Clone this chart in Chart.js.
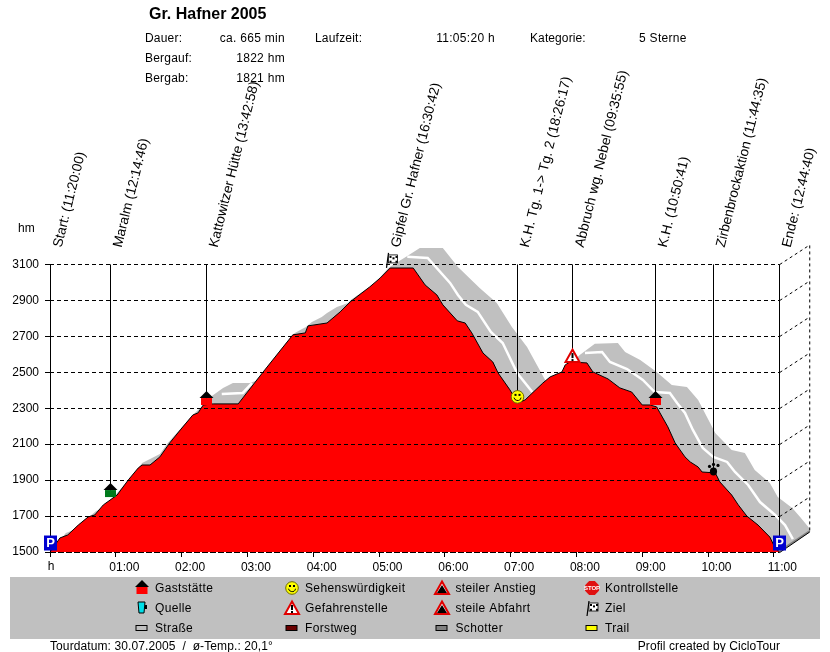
<!DOCTYPE html>
<html>
<head>
<meta charset="utf-8">
<title>Gr. Hafner 2005</title>
<script src="https://cdn.jsdelivr.net/npm/chart.js@4"></script>
<style>
html,body{margin:0;padding:0;background:#fff;}
canvas{display:block;}
</style>
</head>
<body>
<canvas id="profil" width="830" height="652"></canvas>
<script>
/* ---------- DATA ---------- */
let hourTicks=[0,1,2,3,4,5,6,7,8,9,10,11];
let hourLabels=["","01:00","02:00","03:00","04:00","05:00","06:00","07:00","08:00","09:00","10:00","11:00"];
let hmTicks=[1500,1700,1900,2100,2300,2500,2700,2900,3100];

let profileHours=[0,.11,.15,.27,.43,.58,.68,.81,1.02,1.19,1.34,1.40,1.52,1.67,1.82,1.98,2.17,2.25,2.33,2.48,2.86,3.24,3.69,3.88,3.92,4.21,4.41,4.56,4.86,5.02,5.17,5.52,5.70,5.88,5.97,6.19,6.31,6.41,6.58,6.73,6.81,6.99,7.11,7.22,7.49,7.60,7.78,7.83,7.90,8.16,8.25,8.48,8.66,8.84,9.00,9.12,9.22,9.27,9.39,9.50,9.65,9.73,9.85,9.91,10.11,10.18,10.36,10.46,10.59,10.76,10.94,11.02,11.09];
let profileHm=[1500,1556,1578,1595,1650,1695,1706,1762,1817,1901,1967,1984,1984,2029,2107,2179,2262,2274,2318,2324,2324,2502,2708,2719,2758,2774,2836,2891,2975,3025,3080,3080,2986,2930,2875,2786,2774,2719,2607,2557,2496,2402,2329,2346,2440,2474,2502,2541,2557,2552,2502,2463,2413,2390,2318,2318,2307,2274,2196,2107,2029,2001,1973,1945,1940,1890,1817,1762,1700,1650,1583,1522,1500];

let gravelTopHours=[0,.15,.24,.36,.43,.53,.61,.70,.79,1.02,1.26,1.40,1.49,1.61,1.67,1.79,2.17,2.33,2.46,2.63,2.78,3.04,3.12,3.24,3.69,3.72,3.83,3.89,3.98,4.13,4.21,4.36,4.53,4.57,4.94,5.14,5.24,5.43,5.62,5.97,6.20,6.53,6.79,7.02,7.25,7.55,7.60,7.78,7.90,8.05,8.28,8.63,8.74,8.97,9.22,9.45,9.68,9.85,10.11,10.36,10.56,10.71,10.94,11.06,11.28,11.40,11.55];
let gravelTopHm=[1500,1561,1606,1622,1645,1684,1700,1728,1745,1828,1929,1995,2012,2034,2045,2107,2262,2318,2368,2413,2440,2440,2452,2502,2708,2719,2741,2752,2780,2808,2830,2863,2886,2902,2997,3080,3103,3147,3192,3192,3086,2969,2886,2752,2641,2440,2474,2502,2541,2596,2658,2663,2613,2568,2502,2429,2418,2346,2162,2068,2051,1956,1884,1806,1745,1695,1628];
let gravelBottomHours=[0,11.09,11.55];
let gravelBottomHm=[1500,1500,1617];

let stripeHours=[2.61,2.93,3.07,null,5.43,5.74,6.08,6.20,6.32,6.50,6.70,6.88,7.10,7.33,null,8.13,8.39,8.51,8.77,9.01,9.19,9.42,9.53,9.65,9.77,9.92,10.08,10.29,10.41,10.61,10.79,11.02,11.17,11.29];
let stripeHm=[2379,2385,2440,null,3142,3136,2997,2930,2875,2836,2724,2663,2496,2390,null,2607,2613,2557,2518,2457,2390,2385,2329,2274,2179,2079,2029,2001,1945,1873,1778,1706,1650,1572];

let waypointNames=["Start: (11:20:00)","Maralm (12:14:46)","Kattowitzer Hütte (13:42:58)","Gipfel Gr. Hafner (16:30:42)","K.H. Tg. 1-> Tg. 2 (18:26:17)","Abbruch wg. Nebel (09:35:55)","K.H. (10:50:41)","Zirbenbrockaktion (11:44:35)","Ende: (12:44:40)"];
let waypointHours=[0,.92,2.385,5.15,7.11,7.945,9.2,10.09,11.09];
let waypointHm=[1550,1839,2351,3125,2363,2590,2351,1962,1550];
let waypointKinds=["park","alm","hut","flag","smile","danger","hut","paw","park"];

let legendCols=[["Gaststätte","Quelle","Straße"],["Sehenswürdigkeit","Gefahrenstelle","Forstweg"],["steiler Anstieg","steile Abfahrt","Schotter"],["Kontrollstelle","Ziel","Trail"]];
let legendKinds=[["hut","cup","road"],["smile","danger","forest"],["climb","descent","gravel"],["stop","flag","trail"]];

/* ---------- ICONS ---------- */
const FONT='"Liberation Sans", Arial, sans-serif';
function poly(c,pts,fill,stroke,lw){
 c.beginPath();
 pts.forEach((p,i)=>i?c.lineTo(p[0],p[1]):c.moveTo(p[0],p[1]));
 c.closePath();
 if(fill){c.fillStyle=fill;c.fill();}
 if(stroke){c.strokeStyle=stroke;c.lineWidth=lw||1;c.stroke();}
}
function house(c,x,y,col){
 c.fillStyle=col;c.fillRect(x-5.5,y-1,11,7);
 poly(c,[[x-7,y-1],[x,y-8],[x+7,y-1]],"#000");
}
function smile(c,x,y){
 c.beginPath();c.arc(x,y,6.3,0,Math.PI*2);
 c.fillStyle="#ffff00";c.fill();c.strokeStyle="#6b6b00";c.lineWidth=1;c.stroke();
 c.fillStyle="#000";c.fillRect(x-3,y-3,2,2);c.fillRect(x+1,y-3,2,2);
 c.beginPath();c.arc(x,y,3.6,.2,Math.PI-.2);c.strokeStyle="#000";c.stroke();
}
function triangle(c,x,y){
 poly(c,[[x,y-6.5],[x+7,y+6],[x-7,y+6]],"#fff","#e00000",2);
}
function danger(c,x,y){
 triangle(c,x,y);
 c.fillStyle="#000";c.fillRect(x-1,y-3,2,5);c.fillRect(x-1,y+3,2,2);
}
function steep(c,x,y,dir){
 triangle(c,x,y);
 poly(c,[[x-5*dir,y+5],[x,y-3],[x+5*dir,y+5]],"#000");
}
function cup(c,x,y){
 poly(c,[[x-4,y-6],[x+3,y-6],[x+2,y+5],[x-3,y+5]],"#00e0e8","#000",1);
 c.fillStyle="#000";c.fillRect(x+3,y-3,2,4);
}
function stop(c,x,y){
 let r=7.5,pts=[];
 for(let i=0;i<8;i++)pts.push([x+r*Math.cos(Math.PI/8+i*Math.PI/4),y+r*Math.sin(Math.PI/8+i*Math.PI/4)]);
 poly(c,pts,"#e01010");
 c.fillStyle="#fff";c.font="bold 6px "+FONT;c.textAlign="center";c.textBaseline="middle";
 c.fillText("STOP",x,y+.5);
}
function flag(c,x,y){
 c.strokeStyle="#000";c.lineWidth=1.2;
 c.beginPath();c.moveTo(x-5,y+8);c.lineTo(x-3,y-7);c.stroke();
 c.fillStyle="#fff";c.fillRect(x-3,y-5,9,8);
 c.fillStyle="#000";
 for(let i=0;i<3;i++)for(let j=0;j<3;j++)if((i+j)%2==0)c.fillRect(x-2+i*3,y-4+j*2.4-(i%2),2,2);
 c.lineWidth=.8;c.strokeRect(x-3,y-5,9,8);
}
function paw(c,x,y){
 c.fillStyle="#000";
 c.beginPath();c.ellipse(x,y+2.5,3.6,4,0,0,Math.PI*2);c.fill();
 [[-4,-2.5],[0,-4.5],[4.5,-3.5]].forEach(t=>{c.beginPath();c.arc(x+t[0],y+t[1],1.6,0,Math.PI*2);c.fill();});
}
function park(c,x,y){
 c.fillStyle="#0000d0";c.fillRect(x-6.5,y-7.5,13,15);
 c.fillStyle="#fff";c.font="bold 13px "+FONT;c.textAlign="center";c.textBaseline="middle";
 c.fillText("P",x,y);
}
function swatch(c,x,y,col){
 c.fillStyle=col;c.fillRect(x-6,y-2.5,11,5);
 c.strokeStyle="#000";c.lineWidth=1;c.strokeRect(x-6,y-2.5,11,5);
}
function drawIcon(c,kind,x,y){
 if(kind=="alm")house(c,x,y,"#007a1c");
 if(kind=="hut")house(c,x,y,"#ff0000");
 if(kind=="smile")smile(c,x,y);
 if(kind=="danger")danger(c,x,y);
 if(kind=="climb")steep(c,x,y,1);
 if(kind=="descent")steep(c,x,y,-1);
 if(kind=="cup")cup(c,x,y);
 if(kind=="stop")stop(c,x,y);
 if(kind=="flag")flag(c,x,y);
 if(kind=="paw")paw(c,x,y);
 if(kind=="park")park(c,x,y);
 if(kind=="road")swatch(c,x,y,"#c0c0c0");
 if(kind=="forest")swatch(c,x,y,"#6a0000");
 if(kind=="gravel")swatch(c,x,y,"#808080");
 if(kind=="trail")swatch(c,x,y,"#ffff00");
}
function text(c,s,x,y,font,align,spacing){
 c.font=font||"12px "+FONT;
 c.textAlign=align||"left";
 c.textBaseline="alphabetic";
 c.letterSpacing=(spacing||0)+"px";
 c.fillStyle="#000";
 c.fillText(s,x,y);
 c.letterSpacing="0px";
}

/* ---------- GRID, WALL, WAYPOINTS, HEADER, LEGEND ---------- */
const extras={
 id:"extras",
 afterDatasetsDraw(chart){
  let c=chart.ctx,xs=chart.scales.x,ys=chart.scales.y;
  let x0=xs.getPixelForValue(0),x1=xs.getPixelForValue(11.09);
  let top=ys.getPixelForValue(3100),bot=ys.getPixelForValue(1500);
  c.save();
  // dashed grid and the back wall
  c.strokeStyle="#000";c.lineWidth=1;
  hmTicks.forEach((v,i)=>{
   let y=Math.round(ys.getPixelForValue(v))+.5;
   c.setLineDash([4,3]);
   if(i>0){c.beginPath();c.moveTo(x0,y);c.lineTo(x1,y);c.stroke();}
   c.setLineDash([3,3]);
   if(i>0){c.beginPath();c.moveTo(x1,y);c.lineTo(x1+30,y-19.5);c.stroke();}
  });
  c.beginPath();c.moveTo(x1+30,top-19);c.lineTo(x1+30,bot-21);c.stroke();
  c.setLineDash([]);
  // floor of the wall
  c.strokeStyle="#808080";c.lineWidth=2;
  c.beginPath();c.moveTo(x1,bot-1);c.lineTo(x1+30,bot-21);c.stroke();
  c.strokeStyle="#000";c.lineWidth=1;
  c.beginPath();c.moveTo(x1,bot+.5);c.lineTo(x1+30,bot-20);c.stroke();
  // axes
  c.setLineDash([6,2]);
  c.beginPath();c.moveTo(x0,bot+.5);c.lineTo(x1,bot+.5);c.stroke();
  c.setLineDash([]);
  c.beginPath();c.moveTo(x0+.5,top);c.lineTo(x0+.5,bot);c.stroke();
  // waypoint lines, markers and slanted names
  waypointHours.forEach((h,i)=>{
   let x=Math.floor(xs.getPixelForValue(h))+.5,y=ys.getPixelForValue(waypointHm[i]);
   if(y>top){c.strokeStyle="#000";c.lineWidth=1;c.beginPath();c.moveTo(x,top);c.lineTo(x,y);c.stroke();}
   drawIcon(c,waypointKinds[i],waypointKinds[i]=="flag"?x+3:x,y);
   c.save();
   c.translate(x+11,248);
   c.rotate(-76*Math.PI/180);
   text(c,waypointNames[i],0,0,"13.7px "+FONT);
   c.restore();
  });
  // axis units
  text(c,"hm",18,232);
  text(c,"h",51,570,"12px "+FONT,"center");
  // header
  text(c,"Gr. Hafner 2005",149,19,"bold 16px "+FONT);
  text(c,"Dauer:",145,42,null,"left",.2);
  text(c,"Bergauf:",145,62,null,"left",.2);
  text(c,"Bergab:",145,82,null,"left",.2);
  text(c,"ca. 665 min",285,42,null,"right",.3);
  text(c,"1822 hm",285,62,null,"right",.3);
  text(c,"1821 hm",285,82,null,"right",.3);
  text(c,"Laufzeit:",315,42,null,"left",.2);
  text(c,"11:05:20 h",495,42,null,"right",.3);
  text(c,"Kategorie:",530,42,null,"left",.1);
  text(c,"5 Sterne",639,42,null,"left",.3);
  // legend panel
  c.fillStyle="#c0c0c0";c.fillRect(10,577,810,62);
  let iconX=[142,292,442,592],textX=[155,305,455.5,605],rowY=[588,608,628];
  legendCols.forEach((col,i)=>col.forEach((s,j)=>{
   drawIcon(c,legendKinds[i][j],iconX[i],rowY[j]);
   text(c,s,textX[i],rowY[j]+4,null,"left",.35);
  }));
  // footer
  text(c,"Tourdatum: 30.07.2005  /  ø-Temp.: 20,1°",50,650,null,"left",.1);
  text(c,"Profil created by CicloTour",780,650,null,"right",.08);
  c.restore();
 }
};

/* ---------- CHART ---------- */
function points(xs,ys){return xs.map((x,i)=>({x:x,y:ys[i]}));}

new Chart(document.getElementById("profil"),{
 type:"line",
 plugins:[extras],
 data:{datasets:[
  {label:"Profil",data:points(profileHours,profileHm),order:0,borderColor:"#000",borderWidth:1,backgroundColor:"#ff0000",fill:"start"},
  {label:"Streifen",data:points(stripeHours,stripeHm),order:1,borderColor:"#fff",borderWidth:2.5,fill:false,spanGaps:false},
  {label:"Schotter",data:points(gravelTopHours,gravelTopHm),order:2,borderWidth:0,borderColor:"#c0c0c0",backgroundColor:"#c0c0c0",fill:"+1"},
  {label:"Schotter unten",data:points(gravelBottomHours,gravelBottomHm),order:3,borderWidth:0,fill:false}
 ]},
 options:{
  responsive:false,
  animation:false,
  devicePixelRatio:1,
  layout:{padding:{top:245,right:20,left:0,bottom:0}},
  elements:{point:{radius:0},line:{tension:0}},
  plugins:{legend:{display:false},tooltip:{enabled:false},title:{display:false}},
  scales:{
   x:{
    type:"linear",min:0,max:11.55,
    afterBuildTicks(s){s.ticks=hourTicks.map(v=>({value:v}));},
    afterFit(s){s.height=100;},
    grid:{drawOnChartArea:false,tickLength:5,tickColor:"#000"},
    border:{display:false},
    ticks:{color:"#000",font:{family:"Liberation Sans",size:12},padding:3,labelOffset:8.5,maxRotation:0,autoSkip:false,
     callback(v,i){return hourLabels[i];}}
   },
   y:{
    min:1500,max:3208,
    afterBuildTicks(s){s.ticks=hmTicks.map(v=>({value:v}));},
    afterFit(s){s.width=50;},
    grid:{drawOnChartArea:false,tickLength:5,tickColor:"#000"},
    border:{display:false},
    ticks:{color:"#000",font:{family:"Liberation Sans",size:12},padding:6,autoSkip:false,
     callback(v){return String(v);}}
   }
  }
 }
});
</script>
</body>
</html>
